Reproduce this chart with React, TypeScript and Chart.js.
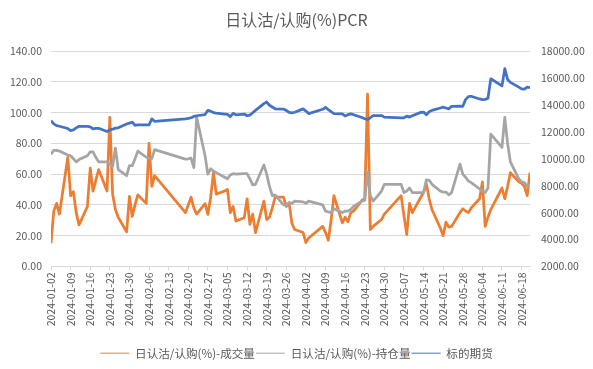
import { useEffect, useRef } from "react";
import { Chart, registerables } from "chart.js";

Chart.register(...registerables);

const chartTitle = "日认沽/认购(%)PCR";
const seriesNames = ["日认沽/认购(%)-成交量", "日认沽/认购(%)-持仓量", "标的期货"];
const axisStart = "2024-01-02";
const axisEnd = "2024-06-21";

const tradeDates = [
  "2024-01-02", "2024-01-03", "2024-01-04", "2024-01-05",
  "2024-01-08", "2024-01-09", "2024-01-10", "2024-01-11", "2024-01-12",
  "2024-01-15", "2024-01-16", "2024-01-17", "2024-01-18", "2024-01-19",
  "2024-01-22", "2024-01-23", "2024-01-24", "2024-01-25", "2024-01-26",
  "2024-01-29", "2024-01-30", "2024-01-31", "2024-02-01", "2024-02-02",
  "2024-02-05", "2024-02-06", "2024-02-07", "2024-02-08",
  "2024-02-19", "2024-02-20", "2024-02-21", "2024-02-22", "2024-02-23",
  "2024-02-26", "2024-02-27", "2024-02-28", "2024-02-29", "2024-03-01",
  "2024-03-04", "2024-03-05", "2024-03-06", "2024-03-07", "2024-03-08",
  "2024-03-11", "2024-03-12", "2024-03-13", "2024-03-14", "2024-03-15",
  "2024-03-18", "2024-03-19", "2024-03-20", "2024-03-21", "2024-03-22",
  "2024-03-25", "2024-03-26", "2024-03-27", "2024-03-28", "2024-03-29",
  "2024-04-01", "2024-04-02", "2024-04-03",
  "2024-04-08", "2024-04-09", "2024-04-10", "2024-04-11", "2024-04-12",
  "2024-04-15", "2024-04-16", "2024-04-17", "2024-04-18", "2024-04-19",
  "2024-04-22", "2024-04-23", "2024-04-24", "2024-04-25", "2024-04-26",
  "2024-04-29", "2024-04-30",
  "2024-05-06", "2024-05-07", "2024-05-08", "2024-05-09", "2024-05-10",
  "2024-05-13", "2024-05-14", "2024-05-15", "2024-05-16", "2024-05-17",
  "2024-05-20", "2024-05-21", "2024-05-22", "2024-05-23", "2024-05-24",
  "2024-05-27", "2024-05-28", "2024-05-29", "2024-05-30", "2024-05-31",
  "2024-06-03", "2024-06-04", "2024-06-05", "2024-06-06", "2024-06-07",
  "2024-06-11", "2024-06-12", "2024-06-13", "2024-06-14",
  "2024-06-17", "2024-06-18", "2024-06-19", "2024-06-20", "2024-06-21",
];

const volumePCR = [
  15, 36, 41, 34,
  71, 46, 48.6, 35, 27,
  39, 64, 49, 56, 63,
  49, 97, 47, 37, 32,
  22.5, 45.5, 32.5, 40, 46.5,
  41, 80, 52, 59,
  35, 40, 45, 38, 34,
  40.8, 33.8, 45, 61, 47,
  49, 50, 35, 39, 29.5,
  31.6, 44, 27.3, 34, 22,
  42.5, 30.5, 32, 38, 45,
  45, 39, 41.5, 28, 24,
  22, 15.5, 18.5,
  26, 22, 17, 30, 46,
  28.3, 32, 29, 35, 36,
  43, 44, 112, 24, 26,
  30.5, 34,
  46, 33, 20.7, 41, 35,
  45, 48, 54, 44, 37,
  25, 20, 28.8, 25.5, 26,
  35, 37.5, 36, 35, 38,
  44, 55, 26, 32, 37,
  51, 44, 52, 61,
  55, 54, 52, 46, 61,
];

const oiPCR = [
  73, 75.5, 75.5, 75,
  72.5, 72, 70, 68, 69.5,
  72, 74.5, 74.5, 71, 68,
  68, 66.5, 65, 77, 63,
  59, 65.5, 65.5, 70, 75,
  71, 70.5, 70.2, 76,
  69.8, 70, 70.5, 64.3, 97,
  72, 60, 63.5, 62, 61,
  58, 57, 59.5, 60.3, 60,
  60.4, 60.4, 57, 53, 53.4,
  66, 60, 52, 46, 46.5,
  40, 40, 41.4, 41, 42.5,
  42, 41, 42.5,
  40, 36, 35.5, 35, 37.5,
  35, 36, 36, 37, 39,
  42.5, 43, 61.5, 46, 42.5,
  49, 53.4,
  53.4, 48, 49, 51, 48,
  48, 48, 56.3, 56, 53.4,
  49, 48.4, 48.4, 46.5, 48,
  66.5, 60, 58, 55.6, 54.5,
  50.5, 49, 48, 51, 86,
  77.4, 97, 80, 68,
  57, 55, 54.5, 52, 53.4,
];

const futures = [
  12840, 12600, 12470, 12420,
  12250, 12100, 12150, 12300, 12420,
  12410, 12380, 12230, 12260, 12270,
  12030, 12150, 12200, 12280, 12300,
  12590, 12650, 12720, 12480, 12520,
  12530, 12520, 12970, 12780,
  12970, 13000, 13050, 13150, 13200,
  13290, 13600, 13540, 13440, 13400,
  13330, 13300, 13130, 13380, 13270,
  13330, 13200, 13250, 13420, 13600,
  14100, 14220, 13980, 13850, 13720,
  13700, 13590, 13450, 13420, 13460,
  13710, 13550, 13360,
  13680, 13830, 13650, 13500, 13350,
  13340, 13180, 13280, 13340, 13280,
  13070, 12980, 12920, 13050, 13210,
  13215, 13100,
  13040, 13050, 13170, 13100, 13200,
  13450, 13470, 13280, 13500, 13600,
  13780, 13840, 13780, 13710, 13900,
  13910, 13900, 14400, 14620, 14650,
  14450, 14400, 14420, 14500, 15950,
  15420, 16700, 15900, 15680,
  15330, 15200, 15180, 15330, 15290,
];

const DAY_MS = 86400000;
const startMs = Date.parse(axisStart + "T00:00:00Z");
const dayIndex = (s: string) => Math.round((Date.parse(s + "T00:00:00Z") - startMs) / DAY_MS);
const dayLabel = (i: number) => new Date(startMs + i * DAY_MS).toISOString().slice(0, 10);

const FONT = "'Noto Sans CJK SC', 'Noto Sans', sans-serif";
const TEXT = "#595959";
const GRID = "#D9D9D9";

export default function App() {
  const ref = useRef<HTMLCanvasElement>(null);

  useEffect(() => {
    document.body.style.margin = "0";
    const canvas = ref.current;
    if (!canvas) return;
    const toPoints = (vals: number[]) => tradeDates.map((d, i) => ({ x: dayIndex(d), y: vals[i] }));

    const chart = new Chart(canvas, {
      type: "line",
      data: {
        datasets: [
          {
            label: seriesNames[0],
            data: toPoints(volumePCR),
            borderColor: "#ED7D31",
            backgroundColor: "#ED7D31",
            yAxisID: "y",
            order: 2,
          },
          {
            label: seriesNames[1],
            data: toPoints(oiPCR),
            borderColor: "#A5A5A5",
            backgroundColor: "#A5A5A5",
            yAxisID: "y",
            order: 1,
          },
          {
            label: seriesNames[2],
            data: toPoints(futures),
            borderColor: "#4472C4",
            backgroundColor: "#4472C4",
            yAxisID: "y1",
            order: 0,
          },
        ],
      },
      options: {
        animation: false,
        responsive: false,
        maintainAspectRatio: false,
        events: [],
        layout: { padding: 0 },
        elements: {
          point: { radius: 0, hoverRadius: 0 },
          line: { borderWidth: 2.75, tension: 0, borderJoinStyle: "round", borderCapStyle: "butt" },
        },
        plugins: {
          title: {
            display: true,
            text: chartTitle,
            color: TEXT,
            font: { family: FONT, size: 16, weight: "normal" },
            padding: { top: 10, bottom: 22 },
          },
          legend: {
            position: "bottom",
            labels: {
              usePointStyle: true,
              pointStyle: "line",
              pointStyleWidth: 29,
              boxHeight: 12,
              padding: 1,
              color: TEXT,
              font: { family: FONT, size: 11.6 },
              sort: (a: any, b: any) => a.datasetIndex - b.datasetIndex,
            },
          },
          tooltip: { enabled: false },
        },
        scales: {
          x: {
            type: "linear",
            min: 0,
            max: dayIndex(axisEnd),
            afterFit: (s: any) => {
              s.height = 80;
            },
            ticks: {
              stepSize: 7,
              maxTicksLimit: 30,
              includeBounds: false,
              autoSkip: false,
              minRotation: 90,
              maxRotation: 90,
              padding: 2,
              color: TEXT,
              font: { family: FONT, size: 10.5 },
              callback: (v: any) => dayLabel(Number(v)),
            },
            grid: { drawOnChartArea: false, drawTicks: true, tickLength: 4, color: GRID },
            border: { color: GRID },
          },
          y: {
            position: "left",
            min: 0,
            max: 140,
            afterFit: (s: any) => {
              s.width = 51;
            },
            ticks: {
              stepSize: 20,
              padding: 9,
              color: TEXT,
              font: { family: FONT, size: 10.5 },
              callback: (v: any) => Number(v).toFixed(2),
            },
            grid: { color: GRID, drawTicks: false },
            border: { display: false },
          },
          y1: {
            position: "right",
            min: 2000,
            max: 18000,
            afterFit: (s: any) => {
              s.width = 63;
            },
            ticks: {
              stepSize: 2000,
              padding: 11,
              color: TEXT,
              font: { family: FONT, size: 10.5 },
              callback: (v: any) => Number(v).toFixed(2),
            },
            grid: { display: false, drawTicks: false },
            border: { display: false },
          },
        },
      },
    } as any);

    return () => chart.destroy();
  }, []);

  return (
    <div style={{ width: 593, height: 369, background: "#fff" }}>
      <canvas ref={ref} width={593} height={369} style={{ display: "block" }} />
    </div>
  );
}
